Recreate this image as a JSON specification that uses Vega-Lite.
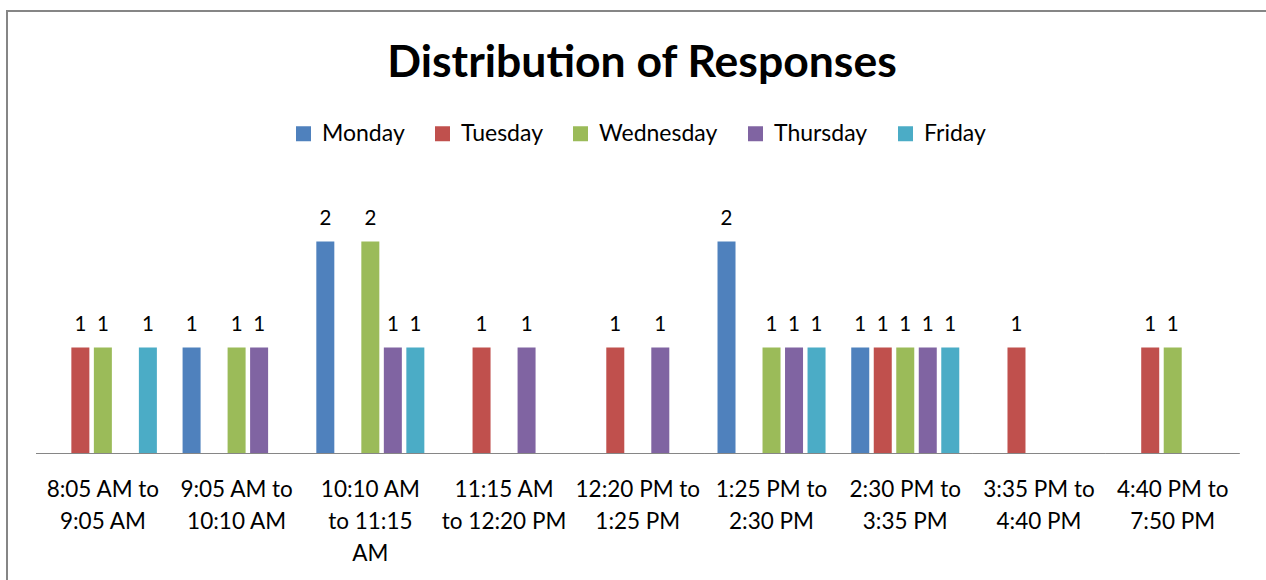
{
  "$schema": "https://vega.github.io/schema/vega-lite/v6.json",
  "width": 1270,
  "height": 600,
  "autosize": {"type": "none"},
  "padding": {"left": 7, "top": 11, "right": 0, "bottom": 0},
  "background": "white",
  "config": {
    "font": "Lato",
    "view": {"stroke": "#868686", "strokeWidth": 2},
    "legend": {"padding": 0}
  },
  "title": {
    "text": "Distribution of Responses",
    "font": "Lato",
    "fontSize": 44.5,
    "fontWeight": "bold",
    "color": "black",
    "anchor": "middle",
    "baseline": "alphabetic",
    "offset": -110
  },
  "data": {
    "values": [
      {"slot": "8:05 AM to 9:05 AM", "day": "Tuesday", "count": 1},
      {"slot": "8:05 AM to 9:05 AM", "day": "Wednesday", "count": 1},
      {"slot": "8:05 AM to 9:05 AM", "day": "Friday", "count": 1},
      {"slot": "9:05 AM to 10:10 AM", "day": "Monday", "count": 1},
      {"slot": "9:05 AM to 10:10 AM", "day": "Wednesday", "count": 1},
      {"slot": "9:05 AM to 10:10 AM", "day": "Thursday", "count": 1},
      {"slot": "10:10 AM to 11:15 AM", "day": "Monday", "count": 2},
      {"slot": "10:10 AM to 11:15 AM", "day": "Wednesday", "count": 2},
      {"slot": "10:10 AM to 11:15 AM", "day": "Thursday", "count": 1},
      {"slot": "10:10 AM to 11:15 AM", "day": "Friday", "count": 1},
      {"slot": "11:15 AM to 12:20 PM", "day": "Tuesday", "count": 1},
      {"slot": "11:15 AM to 12:20 PM", "day": "Thursday", "count": 1},
      {"slot": "12:20 PM to 1:25 PM", "day": "Tuesday", "count": 1},
      {"slot": "12:20 PM to 1:25 PM", "day": "Thursday", "count": 1},
      {"slot": "1:25 PM to 2:30 PM", "day": "Monday", "count": 2},
      {"slot": "1:25 PM to 2:30 PM", "day": "Wednesday", "count": 1},
      {"slot": "1:25 PM to 2:30 PM", "day": "Thursday", "count": 1},
      {"slot": "1:25 PM to 2:30 PM", "day": "Friday", "count": 1},
      {"slot": "2:30 PM to 3:35 PM", "day": "Monday", "count": 1},
      {"slot": "2:30 PM to 3:35 PM", "day": "Tuesday", "count": 1},
      {"slot": "2:30 PM to 3:35 PM", "day": "Wednesday", "count": 1},
      {"slot": "2:30 PM to 3:35 PM", "day": "Thursday", "count": 1},
      {"slot": "2:30 PM to 3:35 PM", "day": "Friday", "count": 1},
      {"slot": "3:35 PM to 4:40 PM", "day": "Tuesday", "count": 1},
      {"slot": "4:40 PM to 7:50 PM", "day": "Tuesday", "count": 1},
      {"slot": "4:40 PM to 7:50 PM", "day": "Wednesday", "count": 1}
    ]
  },
  "encoding": {
    "x": {
      "field": "slot",
      "type": "nominal",
      "title": null,
      "scale": {
        "domain": ["8:05 AM to 9:05 AM", "9:05 AM to 10:10 AM", "10:10 AM to 11:15 AM", "11:15 AM to 12:20 PM", "12:20 PM to 1:25 PM", "1:25 PM to 2:30 PM", "2:30 PM to 3:35 PM", "3:35 PM to 4:40 PM", "4:40 PM to 7:50 PM"],
        "paddingInner": 0,
        "paddingOuter": 0.2483,
        "align": 0.4367
      },
      "axis": {
        "orient": "bottom",
        "offset": -157.5,
        "domain": false,
        "ticks": false,
        "grid": false,
        "labelAngle": 0,
        "labelFont": "Lato",
        "labelFontSize": 22.5,
        "labelColor": "black",
        "labelPadding": 25,
        "labelLineHeight": 32,
        "labelLimit": 0,
        "labelOverlap": false,
        "labelBound": false,
        "labelFlush": false,
        "labelExpr": "{'8:05 AM to 9:05 AM': ['8:05 AM to', '9:05 AM'], '9:05 AM to 10:10 AM': ['9:05 AM to', '10:10 AM'], '10:10 AM to 11:15 AM': ['10:10 AM', 'to 11:15', 'AM'], '11:15 AM to 12:20 PM': ['11:15 AM', 'to 12:20 PM'], '12:20 PM to 1:25 PM': ['12:20 PM to', '1:25 PM'], '1:25 PM to 2:30 PM': ['1:25 PM to', '2:30 PM'], '2:30 PM to 3:35 PM': ['2:30 PM to', '3:35 PM'], '3:35 PM to 4:40 PM': ['3:35 PM to', '4:40 PM'], '4:40 PM to 7:50 PM': ['4:40 PM to', '7:50 PM']}[datum.value]"
      }
    }
  },
  "layer": [
    {
      "mark": {"type": "bar"},
      "encoding": {
        "xOffset": {
          "field": "day",
          "type": "nominal",
          "scale": {"domain": ["Monday", "Tuesday", "Wednesday", "Thursday", "Friday"], "paddingInner": 0.2, "paddingOuter": 0.571}
        },
        "y": {
          "field": "count",
          "type": "quantitative",
          "scale": {"domain": [-1.4858, 4.1745], "nice": false, "zero": false},
          "axis": null
        },
        "y2": {"datum": 0},
        "color": {
          "field": "day",
          "type": "nominal",
          "scale": {
            "domain": ["Monday", "Tuesday", "Wednesday", "Thursday", "Friday"],
            "range": ["#4F81BD", "#C0504D", "#9BBB59", "#8064A2", "#4BACC6"]
          },
          "legend": {
            "title": null,
            "orient": "none",
            "direction": "horizontal",
            "legendX": 285,
            "legendY": 111,
            "symbolType": "square",
            "symbolSize": 225,
            "symbolStrokeWidth": 0,
            "symbolOpacity": 1,
            "labelFont": "Lato",
            "labelFontSize": 23,
            "labelColor": "black",
            "labelOffset": 7,
            "columnPadding": 26,
            "labelLimit": 0
          }
        }
      }
    },
    {
      "mark": {"type": "text", "baseline": "alphabetic", "dy": -17, "fontSize": 20.5, "font": "Lato", "color": "black"},
      "encoding": {
        "xOffset": {
          "field": "day",
          "type": "nominal",
          "scale": {"domain": ["Monday", "Tuesday", "Wednesday", "Thursday", "Friday"], "paddingInner": 0.2, "paddingOuter": 0.571}
        },
        "y": {
          "field": "count",
          "type": "quantitative",
          "scale": {"domain": [-1.4858, 4.1745], "nice": false, "zero": false},
          "axis": null
        },
        "text": {"field": "count", "type": "quantitative"}
      }
    },
    {
      "mark": {"type": "rule", "color": "#868686", "strokeWidth": 1},
      "encoding": {
        "x": {"field": "slot", "type": "nominal", "bandPosition": 0},
        "x2": {"field": "slot", "bandPosition": 1},
        "y": {"datum": 0, "type": "quantitative", "scale": {"domain": [-1.4858, 4.1745], "nice": false, "zero": false}}
      }
    }
  ]
}
